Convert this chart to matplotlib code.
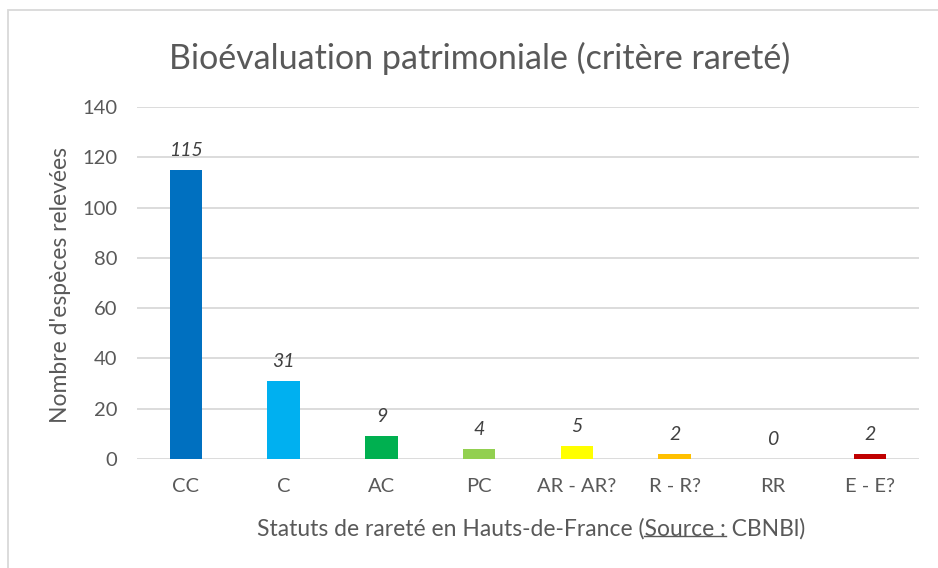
import numpy as np
import matplotlib.pyplot as plt
from matplotlib.patches import Rectangle
from matplotlib.lines import Line2D

plt.rcParams['font.family'] = ['Lato', 'DejaVu Sans']

statuts = ['CC', 'C', 'AC', 'PC', 'AR - AR?', 'R - R?', 'RR', 'E - E?']
nb_especes = [115, 31, 9, 4, 5, 2, 0, 2]
couleurs = ['#0070C0', '#00B0F0', '#00B050', '#92D050', '#FFFF00', '#FFC000', '#7F7F7F', '#C00000']

W, H = 938, 568
fig = plt.figure(figsize=(W / 100, H / 100), dpi=100)
# plot area in pixels: x 137..919, y 107..459
ax = fig.add_axes([137 / W, 1 - 459 / H, (919 - 137) / W, (459 - 107) / H])

x = np.arange(len(statuts))
ax.bar(x, nb_especes, width=0.33, color=couleurs, zorder=3)
for xi, v in zip(x, nb_especes):
    ax.annotate(str(v), (xi, v), xytext=(0, 8), textcoords='offset points',
                ha='center', va='bottom', fontsize=14, style='italic', color='#404040')

ax.set_xlim(-0.5, len(statuts) - 0.5)
ax.set_ylim(0, 140)
ax.set_yticks(range(0, 141, 20))
ax.set_xticks(x)
ax.set_xticklabels(statuts)
ax.tick_params(length=0, labelsize=14.5, colors='#595959')
ax.tick_params(axis='x', pad=14)
ax.tick_params(axis='y', pad=14)
ax.grid(axis='y', color='#D9D9D9', linewidth=1.3, zorder=0)
for s in ax.spines.values():
    s.set_visible(False)

ax.set_ylabel("Nombre d'espèces relevées", fontsize=16.5, color='#595959')
ax.yaxis.set_label_coords(-0.084, 0.494)

fig.text(480 / W, 1 - 58 / H, 'Bioévaluation patrimoniale (critère rareté)',
         ha='center', va='center', fontsize=24.5, color='#595959')

# x label with underlined "Source :"
label = 'Statuts de rareté en Hauts-de-France (Source : CBNBl)'
prefix = 'Statuts de rareté en Hauts-de-France ('
souligne = 'Source :'
fs = 16.5
cx, cy = 531 / W, 1 - 529 / H
t = fig.text(cx, cy, label, ha='center', va='center', fontsize=fs, color='#595959')
fig.canvas.draw()
r = fig.canvas.get_renderer()
bb = t.get_window_extent(r)
tp = fig.text(0, 0, prefix, fontsize=fs)
ts = fig.text(0, 0, souligne, fontsize=fs)
w_pre = tp.get_window_extent(r).width
w_sou = ts.get_window_extent(r).width
tp.remove()
ts.remove()
x0 = (bb.x0 + w_pre) / W
x1 = (bb.x0 + w_pre + w_sou) / W
yl = (bb.y0 + 4) / H
fig.add_artist(Line2D([x0, x1], [yl, yl], color='#595959', linewidth=1.0,
                      transform=fig.transFigure))

# chart border
fig.add_artist(Rectangle((8 / W, -0.1), 1.2, 1.1 - 10 / H, transform=fig.transFigure,
                         fill=False, edgecolor='#D9D9D9', linewidth=1.3))

fig.savefig('out.png', dpi=100)
